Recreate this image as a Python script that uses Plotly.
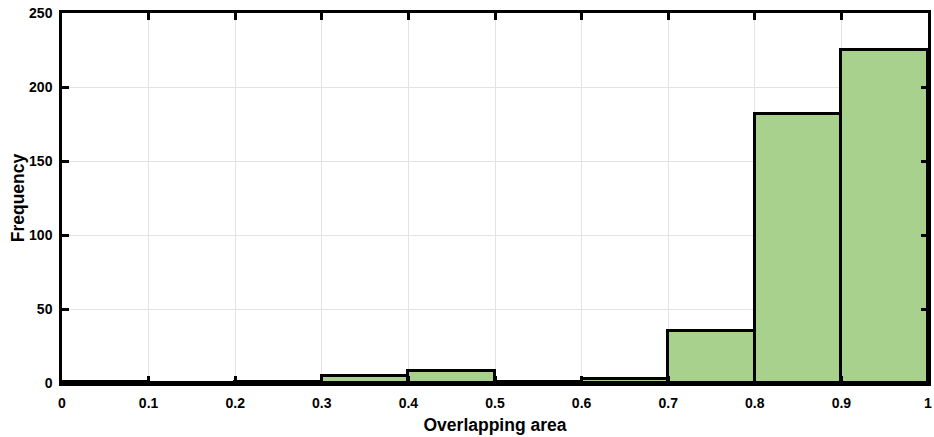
import plotly.graph_objects as go

bin_edges = [0, 0.1, 0.2, 0.3, 0.4, 0.5, 0.6, 0.7, 0.8, 0.9, 1.0]
frequency = [1, 0, 1, 5, 8, 1, 3, 35, 182, 225]
x_ticks = [0, 0.1, 0.2, 0.3, 0.4, 0.5, 0.6, 0.7, 0.8, 0.9, 1]
x_tick_labels = ["0", "0.1", "0.2", "0.3", "0.4", "0.5", "0.6", "0.7", "0.8", "0.9", "1"]
y_ticks = [0, 50, 100, 150, 200, 250]

centers = [(a + b) / 2 for a, b in zip(bin_edges[:-1], bin_edges[1:])]
widths = [b - a for a, b in zip(bin_edges[:-1], bin_edges[1:])]

fig = go.Figure()
fig.add_trace(go.Bar(
    x=centers, y=frequency, width=widths,
    marker=dict(color="#a9d18e", line=dict(color="black", width=3)),
    showlegend=False,
))

font = dict(family="Liberation Sans, Arial, sans-serif", size=14, color="black")
fig.update_layout(
    width=934, height=437,
    margin=dict(l=62, r=6, t=13, b=54),
    plot_bgcolor="white", paper_bgcolor="white",
    font=font, bargap=0,
    xaxis=dict(
        range=[0, 1], tickvals=x_ticks, ticktext=[f"<b>{t}</b>" for t in x_tick_labels],
        showgrid=True, gridcolor="#e3e3e3", gridwidth=1,
        showline=True, linecolor="black", linewidth=2.5, mirror="allticks",
        ticks="inside", ticklen=7, tickwidth=2.5, tickcolor="black",
        ticklabeloverflow="allow", automargin=False, ticklabelstandoff=5,
        title=dict(text="<b>Overlapping area</b>", font=dict(size=17.5), standoff=10),
        zeroline=False,
    ),
    yaxis=dict(
        range=[0, 250], tickvals=y_ticks, ticktext=[f"<b>{t}</b>" for t in y_ticks],
        showgrid=True, gridcolor="#e3e3e3", gridwidth=1,
        showline=True, linecolor="black", linewidth=2.5, mirror="allticks",
        ticks="inside", ticklen=7, tickwidth=2.5, tickcolor="black",
        ticklabeloverflow="allow", automargin=False, ticklabelstandoff=4,
        title=dict(text="<b>Frequency</b>", font=dict(size=17.5), standoff=0),
        zeroline=False,
    ),
)
fig.write_html(
    "out.html",
    config={"displayModeBar": False},
    post_script="document.body.style.margin='0';document.body.style.overflow='hidden';",
)
